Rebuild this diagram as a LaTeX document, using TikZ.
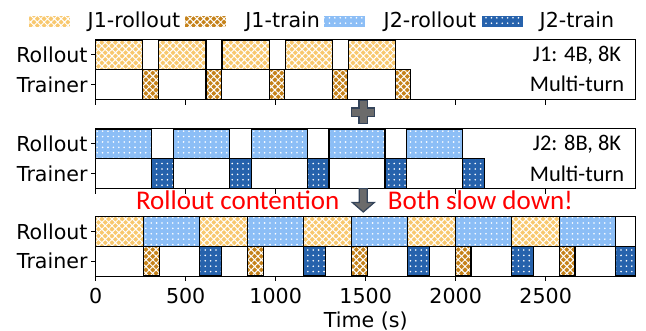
\documentclass[tikz,border=0pt]{standalone}
\usepackage{fontspec}
\setmainfont{DejaVu Sans}
\newfontfamily\notefont{Carlito}
\usetikzlibrary{patterns.meta}
\definecolor{jroll}{HTML}{F8C86E}
\definecolor{jtrain}{HTML}{C5821A}
\definecolor{kroll}{HTML}{8CBEF6}
\definecolor{ktrain}{HTML}{2662AC}
\definecolor{opgray}{HTML}{6B6B6B}
\definecolor{opedge}{HTML}{34445A}
\tikzset{
  diabar/.style={preaction={fill=#1}, pattern={Hatch[angle=45,distance=2.4pt,line width=0.5pt]}, pattern color=white},
  dotbar/.style={preaction={fill=#1}, pattern={Dots[distance=2.7pt,radius=0.45pt]}, pattern color=white},
  lab/.style={font=\fontsize{10.3}{12}\selectfont, inner sep=0pt},
  note/.style={font=\notefont\fontsize{11.2}{13}\selectfont, inner sep=0pt, anchor=base},
  warn/.style={font=\notefont\fontsize{13.5}{15}\selectfont, text=red, inner sep=0pt, anchor=base},
  edge/.style={draw=black, line width=0.6pt},
}

\begin{document}
\begin{tikzpicture}[x=0.5pt,y=-0.5pt]
  \useasboundingbox (0,0) rectangle (646,331);
  % legend
  \foreach \px/\tx/\sty/\col/\lab in {29.3/87.3/diabar/jroll/J1-rollout,185.3/245/diabar/jtrain/J1-train,324/383.3/dotbar/kroll/J2-rollout,481.7/539.3/dotbar/ktrain/J2-train}{
    \path[\sty=\col] (\px,16) rectangle ++(41,11.5);
    \node[lab, anchor=base west] (leg-\lab) at (\tx,28) {\lab};
  }
  % J1 alone
  \begin{scope}[shift={(95.7,40)}, x=0.09pt]
    \foreach \i in {0,...,4}{
      \pgfmathsetmacro\s{\i*351}
      \path[diabar=jroll, edge] (\s,0) rectangle ++(262,29.75);
      \path[diabar=jtrain, edge] (\s+262,29.75) rectangle ++(85,29.75);
    }
  \end{scope}
  % J2 alone
  \begin{scope}[shift={(95.7,129)}, x=0.09pt]
    \foreach \i in {0,...,4}{
      \pgfmathsetmacro\s{\i*432}
      \path[dotbar=kroll, edge] (\s,0) rectangle ++(311,29.75);
      \path[dotbar=ktrain, edge] (\s+311,29.75) rectangle ++(121,29.75);
    }
  \end{scope}
  % both jobs together
  \begin{scope}[shift={(95.7,216.5)}, x=0.09pt]
    \foreach \i in {0,...,4}{
      \pgfmathsetmacro\s{\i*577.5}
      \pgfmathsetmacro\e{min(\s+577.5+122,3000)}
      \path[diabar=jroll, edge] (\s,0) rectangle ++(265,29.75);
      \path[dotbar=kroll, edge] (\s+265,0) rectangle (\s+577.5,29.75);
      \path[diabar=jtrain, edge] (\s+265,29.75) rectangle ++(88,29.75);
      \path[dotbar=ktrain, edge] (\s+577.5,29.75) rectangle (\e,59.5);
    }
  \end{scope}
  % frames, ticks, row labels
  \foreach \top/\pn in {40/pone,129/ptwo,216.5/pthree}{
    \begin{scope}[shift={(95.7,\top)}, x=0.09pt]
      \draw[line width=0.5pt] (0,0) rectangle (3000,59.5);
      \foreach \t in {0,500,...,2500}
        \draw[line width=0.5pt] (\t,59.5) -- ++(0,-2.6pt);
      \draw[line width=0.5pt] (0,14.875) -- ++(-2.6pt,0);
      \draw[line width=0.5pt] (0,44.625) -- ++(-2.6pt,0);
      \node[lab, anchor=east, xshift=-3.9pt] (\pn-roll) at (0,14.875) {Rollout};
      \node[lab, anchor=east, xshift=-3.9pt] (\pn-train) at (0,44.625) {Trainer};
    \end{scope}
  }
  % x axis of the last panel
  \begin{scope}[shift={(95.7,216.5)}, x=0.09pt]
    \foreach \t in {0,500,...,2500}
      \node[lab, anchor=base] (tick-\t) at (\t,87) {\t};
  \end{scope}
  \node[lab, anchor=base] (xlabel) at (365.7,327) {Time (s)};
  % job notes
  \node[note] (jone-size) at (577,62) {J1: 4B, 8K};
  \node[note] (jone-kind) at (577,92) {Multi-turn};
  \node[note] (jtwo-size) at (577,151) {J2: 8B, 8K};
  \node[note] (jtwo-kind) at (577,181) {Multi-turn};
  % plus and down arrow
  \draw[fill=opgray, draw=opedge, line width=0.6pt] (359,100.8) -- (367.6,100.8) -- (367.6,108) -- (374.8,108) -- (374.8,116.6) -- (367.6,116.6) -- (367.6,123.8) -- (359,123.8) -- (359,116.6) -- (351.8,116.6) -- (351.8,108) -- (359,108) -- cycle;
  \draw[fill=opgray, draw=opedge, line width=0.6pt] (359.3,188.6) -- (367.3,188.6) -- (367.3,202.5) -- (374.3,202.5) -- (363.3,212) -- (352.3,202.5) -- (359.3,202.5) -- cycle;
  \node[warn] (contention) at (237.7,209.5) {Rollout contention};
  \node[warn] (slowdown) at (480.5,209.5) {Both slow down!};
\end{tikzpicture}
\end{document}
